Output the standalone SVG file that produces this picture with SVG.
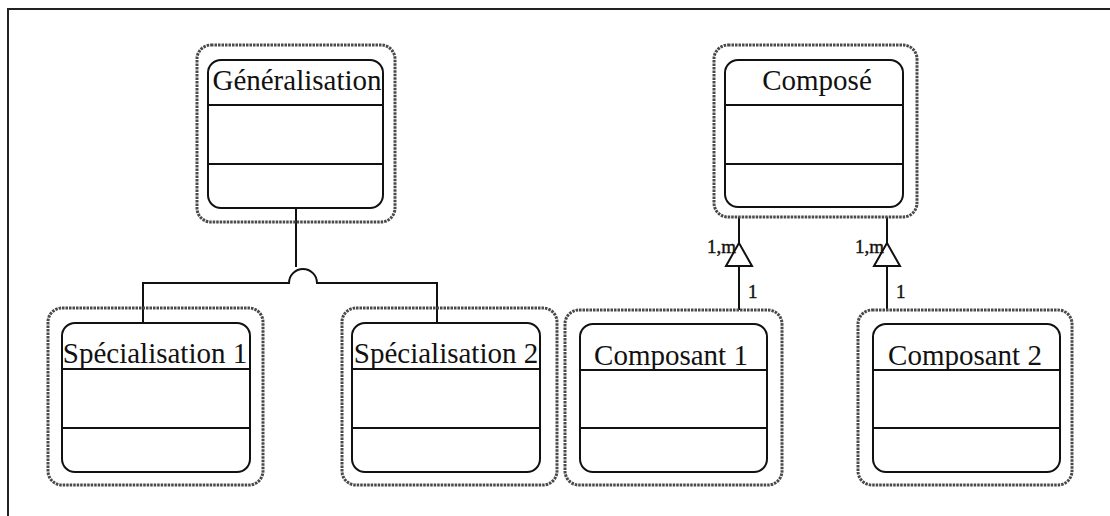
<svg xmlns="http://www.w3.org/2000/svg" width="1110" height="516" viewBox="0 0 1110 516">
<style>
.outer{fill:none;stroke:#4a4a4a;stroke-width:3;stroke-dasharray:2.5 1}
.inner{fill:#fff;stroke:#111;stroke-width:2}
.div{stroke:#111;stroke-width:2}
.title{font-family:"Liberation Serif",serif;font-size:29px;fill:#111;text-anchor:middle}
.lbl{font-family:"Liberation Serif",serif;font-size:19px;fill:#111;stroke:#111;stroke-width:0.4}
.conn{fill:none;stroke:#111;stroke-width:2}
.tri{fill:#fff;stroke:#111;stroke-width:2}
</style>
<rect width="1110" height="516" fill="#fff"/>
<path d="M8 516 V9 H1110" fill="none" stroke="#222" stroke-width="2"/>

<g id="connectors">
  <path class="conn" d="M296 208 V267"/>
  <path class="conn" d="M143 323 V283 H289 A14 14 0 0 1 317 283 H437 V323"/>
  <path class="conn" d="M739 217 V310"/>
  <path class="conn" d="M887 217 V310"/>
  <polygon class="tri" points="739,243 726,266 752,266"/>
  <polygon class="tri" points="887,243 874,266 900,266"/>
  <text class="lbl" x="736" y="253" text-anchor="end">1,m</text>
  <text class="lbl" x="748" y="298">1</text>
  <text class="lbl" x="884" y="253" text-anchor="end">1,m</text>
  <text class="lbl" x="896" y="298">1</text>
</g>

<g id="generalisation">
  <rect class="outer" x="197" y="45" width="198" height="177" rx="14"/>
  <rect class="inner" x="208" y="60" width="175" height="148" rx="13"/>
  <line class="div" x1="208" y1="105" x2="383" y2="105"/>
  <line class="div" x1="208" y1="164" x2="383" y2="164"/>
  <text class="title" x="297" y="90">Généralisation</text>
</g>

<g id="compose">
  <rect class="outer" x="714" y="45" width="203" height="172" rx="14"/>
  <rect class="inner" x="725" y="60" width="178" height="147" rx="13"/>
  <line class="div" x1="725" y1="105" x2="903" y2="105"/>
  <line class="div" x1="725" y1="164" x2="903" y2="164"/>
  <text class="title" x="817" y="90">Composé</text>
</g>

<g id="specialisation1">
  <rect class="outer" x="48" y="308" width="215" height="177" rx="14"/>
  <rect class="inner" x="62" y="323" width="188" height="149" rx="13"/>
  <line class="div" x1="62" y1="369" x2="250" y2="369"/>
  <line class="div" x1="62" y1="428" x2="250" y2="428"/>
  <text class="title" x="155" y="363">Spécialisation 1</text>
</g>

<g id="specialisation2">
  <rect class="outer" x="342" y="308" width="215" height="177" rx="14"/>
  <rect class="inner" x="352" y="323" width="188" height="149" rx="13"/>
  <line class="div" x1="352" y1="369" x2="540" y2="369"/>
  <line class="div" x1="352" y1="428" x2="540" y2="428"/>
  <text class="title" x="446" y="363">Spécialisation 2</text>
</g>

<g id="composant1">
  <rect class="outer" x="565" y="310" width="217" height="175" rx="14"/>
  <rect class="inner" x="580" y="324" width="187" height="148" rx="13"/>
  <line class="div" x1="580" y1="370" x2="767" y2="370"/>
  <line class="div" x1="580" y1="428" x2="767" y2="428"/>
  <text class="title" x="671" y="365">Composant 1</text>
</g>

<g id="composant2">
  <rect class="outer" x="858" y="310" width="214" height="175" rx="14"/>
  <rect class="inner" x="873" y="324" width="187" height="148" rx="13"/>
  <line class="div" x1="873" y1="370" x2="1060" y2="370"/>
  <line class="div" x1="873" y1="428" x2="1060" y2="428"/>
  <text class="title" x="965" y="365">Composant 2</text>
</g>
</svg>
